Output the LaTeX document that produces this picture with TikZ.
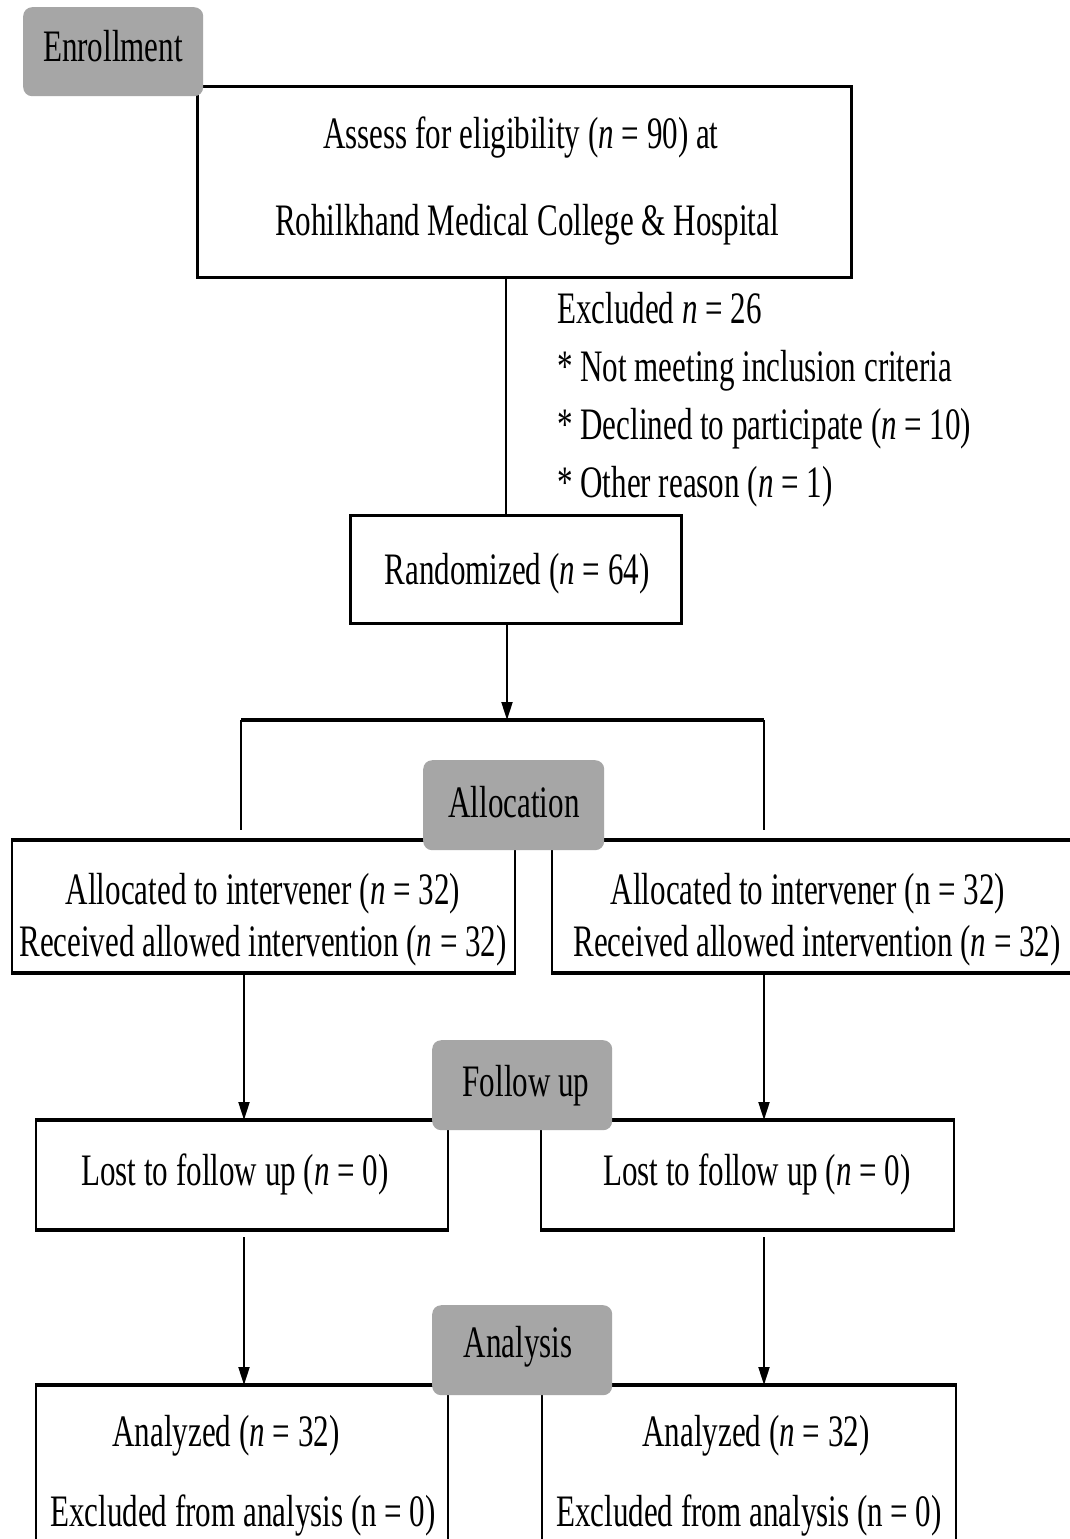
\documentclass[tikz,border=0pt]{standalone}
\usepackage{fontspec}
\setmainfont[FakeStretch=0.69]{Liberation Serif}
\usetikzlibrary{arrows.meta,calc}
\definecolor{phase}{RGB}{166,166,166}
\tikzset{
 box/.style={draw=black,line width=2pt,inner sep=0pt,anchor=north west},
 phasebox/.style={fill=phase,rounded corners=9pt,inner sep=0pt,anchor=north west},
 txt/.style={anchor=base,inner sep=0pt,font=\fontsize{45}{52}\selectfont},
 conn/.style={line width=2pt},
 thickedge/.style={line width=4.5pt},
 arr/.style={line width=2pt,-{Triangle[length=18pt,width=11pt]}},
}
\begin{document}
\begin{tikzpicture}[x=1pt,y=-1pt]
\clip (0,0) rectangle (1070,1539);
\fill[white] (0,0) rectangle (1070,1539);
% boxes
\node[box,line width=3pt,minimum width=654pt,minimum height=191pt] (assess) at (196,85) {};
\node[box,line width=3pt,minimum width=331pt,minimum height=108pt] (rand) at (349,514) {};
\node[box,minimum width=503pt,minimum height=131pt] (allocL) at (11,840) {};
\node[box,minimum width=530pt,minimum height=131pt] (allocR) at (551,840) {};
\node[box,minimum width=412pt,minimum height=108pt] (lostL) at (35,1120) {};
\node[box,minimum width=413pt,minimum height=108pt] (lostR) at (540,1120) {};
\node[box,minimum width=412pt,minimum height=170pt] (anaL) at (35,1385) {};
\node[box,minimum width=414pt,minimum height=170pt] (anaR) at (541,1385) {};
\foreach \n in {allocL,allocR,lostL,lostR} {
  \draw[thickedge] (\n.north west) -- (\n.north east);
  \draw[thickedge] (\n.south west) -- (\n.south east);
}
\foreach \n in {anaL,anaR} \draw[thickedge] (\n.north west) -- (\n.north east);
% connectors
\coordinate (split) at (506,0);
\coordinate (brL) at (241,720);
\coordinate (brR) at (764,720);
\coordinate (brM) at (507,720);
\coordinate (brLe) at (241,830);
\coordinate (brRe) at (764,830);
\coordinate (colL) at (244,0);
\coordinate (colR) at (764,0);
\draw[conn] (assess.south -| split) -- (rand.north -| split);
\draw[arr] (rand.south -| brM) -- (brM);
\draw[line width=3.5pt] (brL) -- (brR);
\draw[conn] (brL) -- (brLe);
\draw[conn] (brR) -- (brRe);
\draw[arr] (allocL.south -| colL) -- (lostL.north -| colL);
\draw[arr] (allocR.south -| colR) -- (lostR.north -| colR);
\draw[arr] ([yshift=-7pt]lostL.south -| colL) -- (anaL.north -| colL);
\draw[arr] ([yshift=-7pt]lostR.south -| colR) -- (anaR.north -| colR);
% phase boxes
\node[phasebox,minimum width=180pt,minimum height=89pt] (enroll) at (23,7) {};
\node[phasebox,minimum width=181pt,minimum height=90pt] (alloc) at (423,760) {};
\node[phasebox,minimum width=180pt,minimum height=90pt] (follow) at (432,1040) {};
\node[phasebox,minimum width=180pt,minimum height=90pt] (analysis) at (432,1305) {};
% texts
\node[txt] (enrollT) at (113,61) {Enrollment};
\node[txt] (assessT1) at (521,148) {Assess for eligibility (\textit{n} = 90) at};
\node[txt] (assessT2) at (527,235) {Rohilkhand Medical College \& Hospital};
\node[txt,anchor=base west] (ex1) at (557,323) {Excluded \textit{n} = 26};
\node[txt,anchor=base west] (ex2) at (557,381) {* Not meeting inclusion criteria};
\node[txt,anchor=base west] (ex3) at (557,439) {* Declined to participate (\textit{n} = 10)};
\node[txt,anchor=base west] (ex4) at (557,497) {* Other reason (\textit{n} = 1)};
\node[txt] (randT) at (517,584) {Randomized (\textit{n} = 64)};
\node[txt] (allocT) at (514,817) {Allocation};
\node[txt] (alLT1) at (263,904) {Allocated to intervener (\textit{n} = 32)};
\node[txt] (alLT2) at (263,956) {Received allowed intervention (\textit{n} = 32)};
\node[txt] (alRT1) at (808,904) {Allocated to intervener (n = 32)};
\node[txt] (alRT2) at (817,956) {Received allowed intervention (\textit{n} = 32)};
\node[txt] (followT) at (526,1096) {Follow up};
\node[txt] (lostLT) at (235,1185) {Lost to follow up (\textit{n} = 0)};
\node[txt] (lostRT) at (757,1185) {Lost to follow up (\textit{n} = 0)};
\node[txt] (analysisT) at (518,1357) {Analysis};
\node[txt] (anaLT1) at (226,1446) {Analyzed (\textit{n} = 32)};
\node[txt] (anaLT2) at (243,1526) {Excluded from analysis (n = 0)};
\node[txt] (anaRT1) at (756,1446) {Analyzed (\textit{n} = 32)};
\node[txt] (anaRT2) at (749,1526) {Excluded from analysis (n = 0)};
\end{tikzpicture}
\end{document}
